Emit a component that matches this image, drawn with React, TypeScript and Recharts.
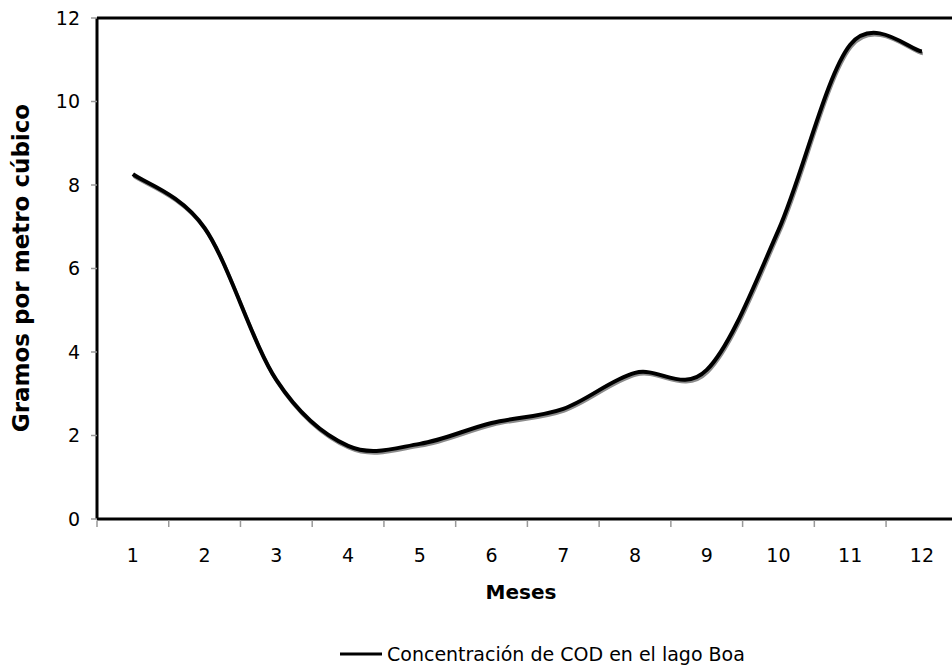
import { LineChart, Line, XAxis, YAxis, ReferenceLine, Legend } from "recharts";

const months = ["1", "2", "3", "4", "5", "6", "7", "8", "9", "10", "11", "12"];
const codValues = [8.26, 6.97, 3.33, 1.75, 1.8, 2.3, 2.64, 3.5, 3.57, 6.92, 11.36, 11.2];
const yTicks = [0, 2, 4, 6, 8, 10, 12];
const seriesName = "Concentración de COD en el lago Boa";

const data = months.map((m, i) => ({ month: m, cod: codValues[i] }));

const FONT = "'DejaVu Sans', Verdana, sans-serif";
const CHART_W = 960;
const CHART_H = 669;
const PLOT_LEFT = 97;
const PLOT_RIGHT = 957.8;
const BAND = (PLOT_RIGHT - PLOT_LEFT) / months.length;

// Excel-style smoothing (Catmull-Rom as cubic bezier), optional pixel offset for the drop shadow
function excelSmooth(dx: number, dy: number) {
  return (context: any) => {
    let pts: number[][] = [];
    return {
      areaStart() {},
      areaEnd() {},
      lineStart() {
        pts = [];
      },
      point(x: number, y: number) {
        pts.push([+x + dx, +y + dy]);
      },
      lineEnd() {
        if (!pts.length) return;
        context.moveTo(pts[0][0], pts[0][1]);
        for (let i = 0; i < pts.length - 1; i++) {
          const p0 = pts[i - 1] ?? pts[i];
          const p1 = pts[i];
          const p2 = pts[i + 1];
          const p3 = pts[i + 2] ?? pts[i + 1];
          context.bezierCurveTo(
            p1[0] + (p2[0] - p0[0]) / 6,
            p1[1] + (p2[1] - p0[1]) / 6,
            p2[0] - (p3[0] - p1[0]) / 6,
            p2[1] - (p3[1] - p1[1]) / 6,
            p2[0],
            p2[1]
          );
        }
      },
    };
  };
}

const MonthTick = ({ x, y, payload }: any) => (
  <g>
    <line x1={x - BAND / 2} x2={x - BAND / 2} y1={y + 1.5} y2={y + 8} stroke="#999" strokeWidth={1.5} />
    <text x={x} y={y + 43} textAnchor="middle" fontFamily={FONT} fontSize={19} fill="#000">
      {payload.value}
    </text>
  </g>
);

const LegendContent = ({ payload }: any) => (
  <div style={{ display: "flex", alignItems: "center", fontFamily: FONT, fontSize: 19, color: "#000", lineHeight: "24px" }}>
    {(payload || [])
      .filter((p: any) => p.type !== "none")
      .map((p: any) => (
        <div key={p.value} style={{ display: "flex", alignItems: "center" }}>
          <svg width={46} height={24}>
            <line x1={2} y1={12} x2={44} y2={12} stroke="#000" strokeWidth={3} />
          </svg>
          <span style={{ marginLeft: 3, whiteSpace: "nowrap" }}>{p.value}</span>
        </div>
      ))}
  </div>
);

export default function App() {
  return (
    <div
      style={{
        position: "fixed",
        left: 0,
        top: 0,
        width: 952,
        height: 669,
        overflow: "hidden",
        background: "#fff",
      }}
    >
      <LineChart
        width={CHART_W}
        height={CHART_H}
        data={data}
        margin={{ top: 18, right: CHART_W - PLOT_RIGHT, left: 0, bottom: 70 }}
      >
        <XAxis
          dataKey="month"
          scale="band"
          height={80}
          interval={0}
          tickSize={0}
          tickMargin={0}
          tickLine={false}
          tick={<MonthTick />}
          axisLine={{ stroke: "#000", strokeWidth: 3 }}
          label={{
            value: "Meses",
            content: () => (
              <text x={521} y={599} textAnchor="middle" fontFamily={FONT} fontSize={20} fontWeight="bold" fill="#000">
                Meses
              </text>
            ),
          }}
        />
        <YAxis
          domain={[0, 12]}
          ticks={yTicks}
          interval={0}
          width={PLOT_LEFT}
          tickSize={6}
          tickMargin={11}
          tick={{ fontFamily: FONT, fontSize: 19, fill: "#000" }}
          tickLine={{ stroke: "#999", strokeWidth: 1.5 }}
          axisLine={{ stroke: "#000", strokeWidth: 3 }}
          label={{
            value: "Gramos por metro cúbico",
            content: () => (
              <text
                x={21}
                y={268}
                transform="rotate(-90, 21, 268)"
                textAnchor="middle"
                dominantBaseline="central"
                fontFamily={FONT}
                fontSize={23}
                fontWeight="bold"
                fill="#000"
              >
                Gramos por metro cúbico
              </text>
            ),
          }}
        />
        <ReferenceLine y={12} stroke="#000" strokeWidth={3} />
        <Legend
          layout="horizontal"
          verticalAlign="middle"
          align="center"
          content={<LegendContent />}
          wrapperStyle={{ top: 642, left: 338, width: "auto" }}
        />
        <Line
          dataKey="cod"
          type={excelSmooth(1, 2) as any}
          stroke="#8c8c8c"
          strokeWidth={3.5}
          dot={false}
          activeDot={false}
          legendType="none"
          isAnimationActive={false}
        />
        <Line
          dataKey="cod"
          name={seriesName}
          type={excelSmooth(0, 0) as any}
          stroke="#000"
          strokeWidth={4}
          dot={false}
          activeDot={false}
          isAnimationActive={false}
        />
      </LineChart>
    </div>
  );
}
